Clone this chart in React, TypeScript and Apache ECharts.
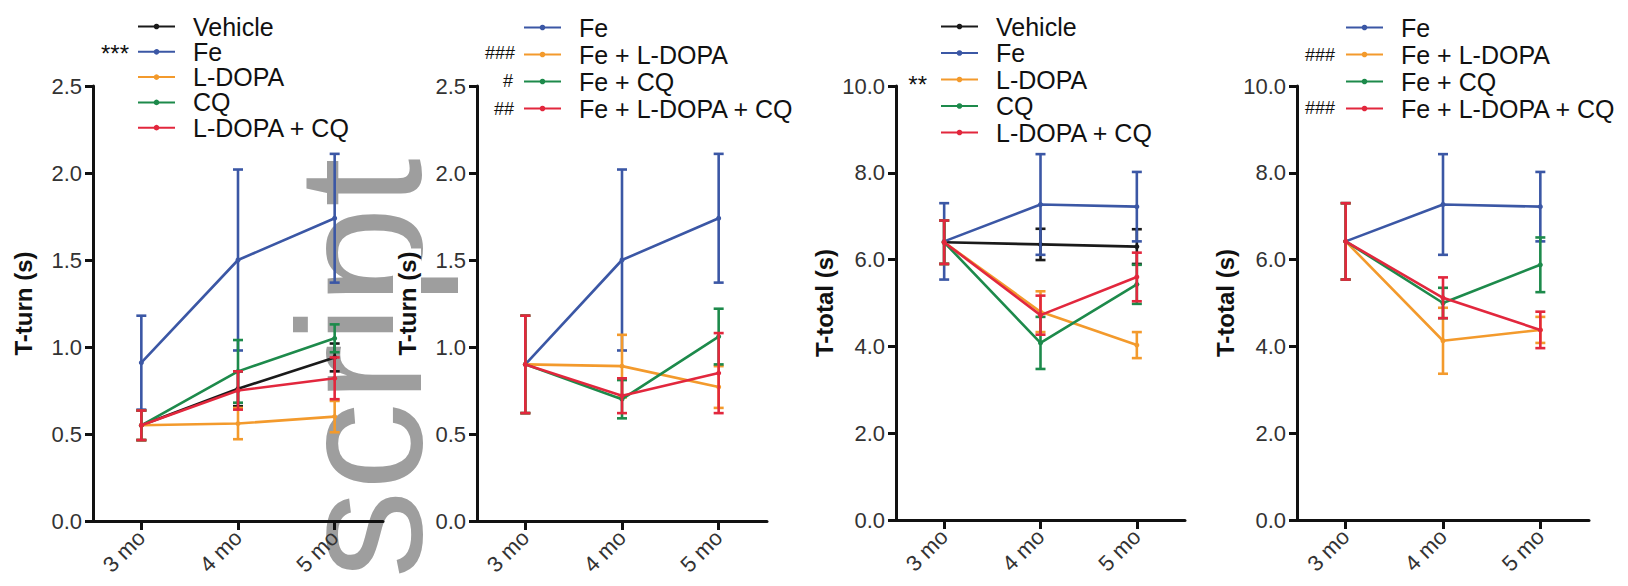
import React, { useEffect, useRef } from 'react';
import * as echarts from 'echarts';

// ---------- data ----------
const MONTHS = ['3 mo', '4 mo', '5 mo'];

// Panel 1: T-turn, control groups
const turnNamesA = ['Vehicle', 'Fe', 'L-DOPA', 'CQ', 'L-DOPA + CQ'];
const turnMeansA = [
  [0.55, 0.76, 0.94],
  [0.91, 1.5, 1.74],
  [0.55, 0.56, 0.6],
  [0.55, 0.86, 1.05],
  [0.55, 0.75, 0.82],
];
const turnErrA = [
  [0.085, 0.1, 0.08],
  [0.27, 0.52, 0.37],
  [0.085, 0.09, 0.09],
  [0.085, 0.18, 0.08],
  [0.085, 0.11, 0.12],
];

// Panel 2: T-turn, Fe groups
const turnNamesB = ['Fe', 'Fe + L-DOPA', 'Fe + CQ', 'Fe + L-DOPA + CQ'];
const turnMeansB = [
  [0.9, 1.5, 1.74],
  [0.9, 0.89, 0.77],
  [0.9, 0.7, 1.06],
  [0.9, 0.72, 0.85],
];
const turnErrB = [
  [0.28, 0.52, 0.37],
  [0.28, 0.18, 0.12],
  [0.28, 0.11, 0.16],
  [0.28, 0.1, 0.23],
];

// Panel 3: T-total, control groups
const totalNamesA = ['Vehicle', 'Fe', 'L-DOPA', 'CQ', 'L-DOPA + CQ'];
const totalMeansA = [
  [6.4, 6.35, 6.3],
  [6.42, 7.27, 7.22],
  [6.4, 4.8, 4.03],
  [6.4, 4.08, 5.43],
  [6.4, 4.72, 5.6],
];
const totalErrA = [
  [0.5, 0.36, 0.4],
  [0.88, 1.16, 0.8],
  [0.5, 0.47, 0.3],
  [0.5, 0.6, 0.45],
  [0.5, 0.45, 0.56],
];

// Panel 4: T-total, Fe groups
const totalNamesB = ['Fe', 'Fe + L-DOPA', 'Fe + CQ', 'Fe + L-DOPA + CQ'];
const totalMeansB = [
  [6.42, 7.27, 7.22],
  [6.42, 4.13, 4.38],
  [6.42, 5.0, 5.88],
  [6.42, 5.12, 4.38],
];
const totalErrB = [
  [0.88, 1.16, 0.8],
  [0.88, 0.76, 0.3],
  [0.88, 0.35, 0.63],
  [0.88, 0.47, 0.42],
];

const yTicksTurn = { max: 2.5, interval: 0.5 };
const yTicksTotal = { max: 10, interval: 2 };

// ---------- styles ----------
const C_BLACK = '#1a1a1a';
const C_BLUE = '#3b57a5';
const C_ORANGE = '#f39a2c';
const C_GREEN = '#1d8a4b';
const C_RED = '#e2273d';
const COLORS_A = [C_BLACK, C_BLUE, C_ORANGE, C_GREEN, C_RED];
const COLORS_B = [C_BLUE, C_ORANGE, C_GREEN, C_RED];
const FONT = '"Liberation Sans", Arial, Helvetica, sans-serif';

const PANELS = [
  {
    names: turnNamesA, means: turnMeansA, errs: turnErrA, colors: COLORS_A,
    ticks: yTicksTurn, yName: 'T-turn (s)',
    grid: { left: 93, top: 86, width: 290, height: 435 },
    legend: { left: 137, top: 14, gap: 0.3 },
  },
  {
    names: turnNamesB, means: turnMeansB, errs: turnErrB, colors: COLORS_B,
    ticks: yTicksTurn, yName: 'T-turn (s)',
    grid: { left: 477, top: 86, width: 290, height: 435 },
    legend: { left: 523, top: 15, gap: 2 },
  },
  {
    names: totalNamesA, means: totalMeansA, errs: totalErrA, colors: COLORS_A,
    ticks: yTicksTotal, yName: 'T-total (s)',
    grid: { left: 896, top: 86, width: 289, height: 434 },
    legend: { left: 940, top: 14, gap: 1.5 },
  },
  {
    names: totalNamesB, means: totalMeansB, errs: totalErrB, colors: COLORS_B,
    ticks: yTicksTotal, yName: 'T-total (s)',
    grid: { left: 1297, top: 86, width: 292, height: 434 },
    legend: { left: 1345, top: 15, gap: 2 },
  },
];

const ANNOTATIONS = [
  { text: '***', x: 129, y: 53, size: 24 },
  { text: '###', x: 515, y: 53, size: 18 },
  { text: '#', x: 513, y: 81, size: 18 },
  { text: '##', x: 514, y: 109, size: 18 },
  { text: '**', x: 927, y: 84, size: 24 },
  { text: '###', x: 1335, y: 55, size: 18 },
  { text: '###', x: 1335, y: 108, size: 18 },
];

function buildOption() {
  const grids: any[] = [];
  const xAxes: any[] = [];
  const yAxes: any[] = [];
  const series: any[] = [];
  const legends: any[] = [];

  PANELS.forEach((p, i) => {
    grids.push({ ...p.grid, containLabel: false });
    xAxes.push({
      type: 'category',
      gridIndex: i,
      data: MONTHS,
      boundaryGap: true,
      z: 5,
      axisLine: { show: true, lineStyle: { color: '#111', width: 3 } },
      axisTick: { show: true, alignWithLabel: true, length: 9, lineStyle: { color: '#111', width: 3 } },
      axisLabel: { rotate: 45, margin: 13, fontSize: 22, color: '#333', fontFamily: FONT },
      splitLine: { show: false },
    });
    yAxes.push({
      type: 'value',
      gridIndex: i,
      min: 0,
      max: p.ticks.max,
      interval: p.ticks.interval,
      name: p.yName,
      nameLocation: 'middle',
      nameGap: 56,
      z: 5,
      nameTextStyle: {
        fontSize: 24, fontWeight: 'bold', color: '#111', fontFamily: FONT,
        backgroundColor: '#ffffff', padding: [2, 3],
      },
      axisLine: { show: true, onZero: false, lineStyle: { color: '#111', width: 3 } },
      axisTick: { show: true, length: 8, lineStyle: { color: '#111', width: 3 } },
      axisLabel: {
        fontSize: 22, color: '#333', margin: 11, fontFamily: FONT,
        formatter: (v: number) => v.toFixed(1),
      },
      splitLine: { show: false },
    });
    legends.push({
      data: p.names,
      orient: 'vertical',
      left: p.legend.left,
      top: p.legend.top,
      itemGap: p.legend.gap,
      itemWidth: 37,
      itemHeight: 7,
      padding: 0,
      selectedMode: false,
      textStyle: { fontSize: 25, lineHeight: 25, color: '#111', fontFamily: FONT, padding: [0, 0, 0, 13] },
    });
    p.names.forEach((name, j) => {
      const color = p.colors[j];
      series.push({
        type: 'line',
        name,
        xAxisIndex: i,
        yAxisIndex: i,
        data: p.means[j],
        symbol: 'circle',
        symbolSize: 5,
        color,
        lineStyle: { color, width: 2.6 },
        itemStyle: { color },
        z: 2 + j,
        silent: true,
      });
      series.push({
        type: 'custom',
        xAxisIndex: i,
        yAxisIndex: i,
        z: 2 + j,
        silent: true,
        encode: { x: 0, y: [1, 2] },
        data: p.means[j].map((m, k) => [k, m - p.errs[j][k], m + p.errs[j][k]]),
        renderItem: (_params: any, api: any) => {
          const x = api.value(0);
          const lo = api.coord([x, api.value(1)]);
          const hi = api.coord([x, api.value(2)]);
          const w = 5;
          const style = { stroke: color, lineWidth: 2.6 };
          return {
            type: 'group',
            children: [
              { type: 'line', shape: { x1: hi[0], y1: hi[1], x2: lo[0], y2: lo[1] }, style },
              { type: 'line', shape: { x1: hi[0] - w, y1: hi[1], x2: hi[0] + w, y2: hi[1] }, style },
              { type: 'line', shape: { x1: lo[0] - w, y1: lo[1], x2: lo[0] + w, y2: lo[1] }, style },
            ],
          };
        },
      });
    });
  });

  const graphics: any[] = [
    {
      type: 'text',
      x: 360,
      y: 158,
      rotation: Math.PI / 2,
      z: -10,
      silent: true,
      style: {
        text: 'script',
        fontSize: 176,
        fontFamily: FONT,
        fill: '#9e9e9e',
        align: 'right',
        verticalAlign: 'middle',
      },
    },
  ];
  ANNOTATIONS.forEach((a) => {
    graphics.push({
      type: 'text',
      x: a.x,
      y: a.y,
      z: 10,
      style: {
        text: a.text,
        fontSize: a.size,
        fontFamily: FONT,
        fill: '#111',
        align: 'right',
        verticalAlign: 'middle',
      },
    });
  });

  return {
    animation: false,
    backgroundColor: '#ffffff',
    grid: grids,
    xAxis: xAxes,
    yAxis: yAxes,
    legend: legends,
    series,
    graphic: graphics,
  };
}

export default function App() {
  const ref = useRef<HTMLDivElement>(null);
  useEffect(() => {
    document.body.style.margin = '0';
    if (!ref.current) return;
    const chart = echarts.init(ref.current, null, { renderer: 'svg' });
    chart.setOption(buildOption() as any);
    return () => chart.dispose();
  }, []);
  return (
    <div
      ref={ref}
      style={{ position: 'absolute', left: 0, top: 0, width: 1628, height: 586, background: '#fff' }}
    />
  );
}
